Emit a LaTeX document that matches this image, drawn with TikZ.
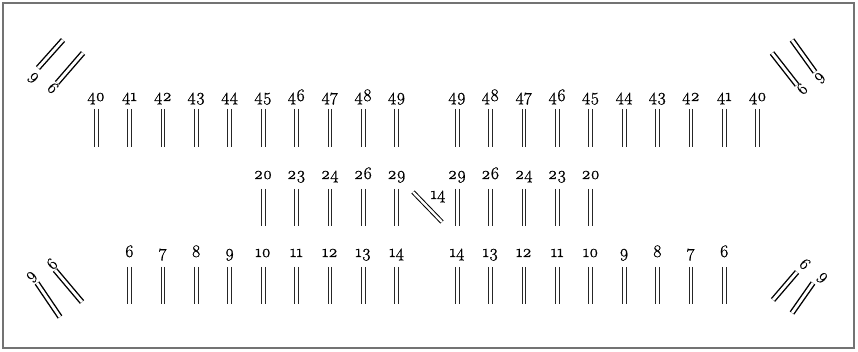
\documentclass[tikz,border=0pt]{standalone}
\usepackage{fontspec}
\newfontfamily\numf[Numbers=OldStyle,FakeBold=1]{Latin Modern Roman}
\begin{document}
\begin{tikzpicture}[x=1pt,y=-1pt,
  num/.style={font=\numf\fontsize{17.5}{18}\selectfont, anchor=base, inner sep=0pt},
  cnum/.style={font=\numf\fontsize{17}{18}\selectfont, anchor=center, inner sep=0pt},
  line/.style={draw=black!85, line width=0.75pt},
  cbar/.style={draw=black, line width=1.4pt, double=white, double distance=2.8pt},
  frame/.style={draw=black!55, line width=1.2pt}]
\newcommand\twobar[2]{%
  \draw[line] ([xshift=-1.9pt]#1) -- ([xshift=-1.9pt]#2);
  \draw[line] ([xshift=1.9pt]#1) -- ([xshift=1.9pt]#2);}
\useasboundingbox (0,0) rectangle (858,352);
\draw[frame] (3,3) rectangle (854,348);
% top row
\foreach \n [count=\i from 0] in {40,41,42,43,44,45,46,47,48,49} {
  \pgfmathsetmacro\xx{96+33.4*\i}
  \node[num] (tl\n) at (\xx,101) {\n};
  \coordinate (tla\n) at (\xx,109); \coordinate (tlb\n) at (\xx,147);
  \twobar{tla\n}{tlb\n}
}
\foreach \n [count=\i from 0] in {49,48,47,46,45,44,43,42,41,40} {
  \pgfmathsetmacro\xx{457+33.4*\i}
  \node[num] (tr\n) at (\xx,101) {\n};
  \coordinate (tra\n) at (\xx,109); \coordinate (trb\n) at (\xx,147);
  \twobar{tra\n}{trb\n}
}
% middle row
\foreach \n [count=\i from 5] in {20,23,24,26,29} {
  \pgfmathsetmacro\xx{96+33.4*\i}
  \node[num] (ml\n) at (\xx,179) {\n};
  \coordinate (mla\n) at (\xx,189); \coordinate (mlb\n) at (\xx,226);
  \twobar{mla\n}{mlb\n}
}
\foreach \n [count=\i from 0] in {29,26,24,23,20} {
  \pgfmathsetmacro\xx{457+33.4*\i}
  \node[num] (mr\n) at (\xx,179) {\n};
  \coordinate (mra\n) at (\xx,189); \coordinate (mrb\n) at (\xx,226);
  \twobar{mra\n}{mrb\n}
}
\coordinate (da) at (413,192); \coordinate (db) at (442,222);
\draw[draw=black, line width=1pt, double=white, double distance=2.4pt] (da) -- (db);
\node[num] (d14) at (438,199) {14};
% bottom row
\foreach \n [count=\i from 1] in {6,7,8,9,10,11,12,13,14} {
  \pgfmathsetmacro\xx{96+33.4*\i}
  \node[num] (bl\n) at (\xx,257) {\n};
  \coordinate (bla\n) at (\xx,267); \coordinate (blb\n) at (\xx,304);
  \twobar{bla\n}{blb\n}
}
\foreach \n [count=\i from 0] in {14,13,12,11,10,9,8,7,6} {
  \pgfmathsetmacro\xx{457+33.4*\i}
  \node[num] (br\n) at (\xx,257) {\n};
  \coordinate (bra\n) at (\xx,267); \coordinate (brb\n) at (\xx,304);
  \twobar{bra\n}{brb\n}
}
% corners: top-left
\coordinate (c1a) at (38,68); \coordinate (c1b) at (63,40);
\coordinate (c2a) at (57,83); \coordinate (c2b) at (83,53);
\draw[cbar] (c1a) -- (c1b); \draw[cbar] (c2a) -- (c2b);
\node[cnum, rotate=-45] (c9tl) at (33,78) {9};
\node[cnum, rotate=-45] (c6tl) at (53,88) {6};
% top-right
\coordinate (c3a) at (792,40); \coordinate (c3b) at (815,72);
\coordinate (c4a) at (772,53); \coordinate (c4b) at (797,85);
\draw[cbar] (c3a) -- (c3b); \draw[cbar] (c4a) -- (c4b);
\node[cnum, rotate=45] (c9tr) at (820,78) {9};
\node[cnum, rotate=45] (c6tr) at (802,89) {6};
% bottom-left
\coordinate (c5a) at (37,283); \coordinate (c5b) at (60,317);
\coordinate (c6a) at (55,270); \coordinate (c6b) at (82,302);
\draw[cbar] (c5a) -- (c5b); \draw[cbar] (c6a) -- (c6b);
\node[cnum, rotate=45] (c9bl) at (32,277) {9};
\node[cnum, rotate=45] (c6bl) at (52,264) {6};
% bottom-right
\coordinate (c7a) at (773,300); \coordinate (c7b) at (797,272);
\coordinate (c8a) at (792,313); \coordinate (c8b) at (813,283);
\draw[cbar] (c7a) -- (c7b); \draw[cbar] (c8a) -- (c8b);
\node[cnum, rotate=-45] (c6br) at (805,264) {6};
\node[cnum, rotate=-45] (c9br) at (822,278) {9};
\end{tikzpicture}
\end{document}
